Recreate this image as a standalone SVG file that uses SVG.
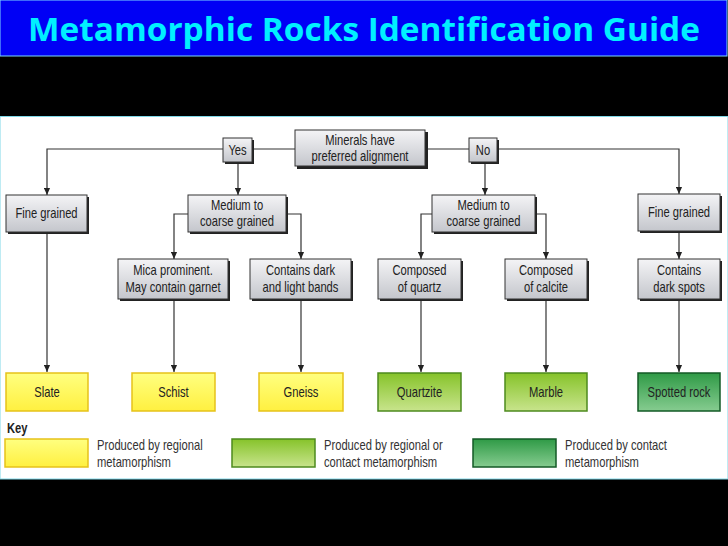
<svg xmlns="http://www.w3.org/2000/svg" width="728" height="546" viewBox="0 0 728 546">
<defs>
<linearGradient id="gGray" x1="0" y1="0" x2="0" y2="1"><stop offset="0" stop-color="#f4f4f6"/><stop offset="1" stop-color="#c4c6cc"/></linearGradient>
<linearGradient id="gYel" x1="0" y1="0" x2="0" y2="1"><stop offset="0" stop-color="#ffff80"/><stop offset="1" stop-color="#fff040"/></linearGradient>
<linearGradient id="gGrn" x1="0" y1="0" x2="0" y2="1"><stop offset="0" stop-color="#86c32a"/><stop offset="1" stop-color="#c8e48c"/></linearGradient>
<linearGradient id="gDk" x1="0" y1="0" x2="0" y2="1"><stop offset="0" stop-color="#2f9a46"/><stop offset="1" stop-color="#86cc90"/></linearGradient>
<marker id="arr" viewBox="0 0 8 8" refX="8" refY="4" markerWidth="7" markerHeight="7" orient="auto" markerUnits="userSpaceOnUse"><path d="M0,0.5 L8,4 L0,7.5 Z" fill="#222"/></marker>
</defs>
<style>
.t{font-family:"Liberation Sans",Arial,sans-serif;font-size:14px;fill:#222;text-anchor:middle}
.k{font-family:"Liberation Sans",Arial,sans-serif;font-size:14px;fill:#333}
.gray{fill:url(#gGray);stroke:#333;stroke-width:1}
.sh{fill:#222}
.yel{fill:url(#gYel);stroke:#e6c21a;stroke-width:1.5}
.grn{fill:url(#gGrn);stroke:#4d8a1e;stroke-width:1.5}
.dk{fill:url(#gDk);stroke:#135a26;stroke-width:1.5}
.c{fill:none;stroke:#333;stroke-width:1.2}
</style>
<rect x="0" y="0" width="728" height="546" fill="#000"/>
<rect x="0" y="0" width="727" height="56" fill="#0000f5" stroke="#7fd8ff" stroke-width="1"/>
<text x="364" y="41" font-family="'Open Sans','Noto Sans',sans-serif" font-weight="bold" font-size="32" fill="#00f0ff" text-anchor="middle" textLength="672" lengthAdjust="spacingAndGlyphs">Metamorphic Rocks Identification Guide</text>
<rect x="0" y="116.5" width="728" height="362.5" fill="#fff" stroke="#7fd8e8" stroke-width="1"/>
<g id="connectors">
<path class="c" d="M295,149 H253"/>
<path class="c" d="M223,149 H47 V195" marker-end="url(#arr)"/>
<path class="c" d="M238,163 V195" marker-end="url(#arr)"/>
<path class="c" d="M426,149 H469"/>
<path class="c" d="M497,149 H679 V194" marker-end="url(#arr)"/>
<path class="c" d="M485,163 V195" marker-end="url(#arr)"/>
<path class="c" d="M47,233 V372" marker-end="url(#arr)"/>
<path class="c" d="M188,214 H174 V259" marker-end="url(#arr)"/>
<path class="c" d="M287,214 H301 V259" marker-end="url(#arr)"/>
<path class="c" d="M174,300 V372" marker-end="url(#arr)"/>
<path class="c" d="M301,300 V372" marker-end="url(#arr)"/>
<path class="c" d="M432,214 H421 V259" marker-end="url(#arr)"/>
<path class="c" d="M536,214 H546 V259" marker-end="url(#arr)"/>
<path class="c" d="M421,300 V372" marker-end="url(#arr)"/>
<path class="c" d="M546,300 V372" marker-end="url(#arr)"/>
<path class="c" d="M679,232 V259" marker-end="url(#arr)"/>
<path class="c" d="M679,300 V372" marker-end="url(#arr)"/>
</g>
<g id="minerals"><rect class="sh" x="297" y="132" width="131" height="37"/><rect class="gray" x="295" y="130" width="130" height="36"/><text class="t" transform="translate(360,145) scale(0.8,1)">Minerals have</text><text class="t" transform="translate(360,161) scale(0.8,1)">preferred alignment</text></g>
<g id="yes"><rect class="sh" x="225" y="140" width="29" height="24"/><rect class="gray" x="223" y="138" width="29" height="24"/><text class="t" transform="translate(237.5,155) scale(0.8,1)">Yes</text></g>
<g id="no"><rect class="sh" x="471" y="140" width="28" height="24"/><rect class="gray" x="469" y="138" width="28" height="24"/><text class="t" transform="translate(483,155) scale(0.8,1)">No</text></g>
<g id="fine-left"><rect class="sh" x="8" y="197" width="81" height="37"/><rect class="gray" x="6" y="195" width="81" height="37"/><text class="t" transform="translate(46.5,218) scale(0.8,1)">Fine grained</text></g>
<g id="medium-left"><rect class="sh" x="190" y="197" width="98" height="37"/><rect class="gray" x="188" y="195" width="98" height="37"/><text class="t" transform="translate(237,210) scale(0.8,1)">Medium to</text><text class="t" transform="translate(237,226) scale(0.8,1)">coarse grained</text></g>
<g id="medium-right"><rect class="sh" x="434" y="197" width="103" height="37"/><rect class="gray" x="432" y="195" width="103" height="37"/><text class="t" transform="translate(483.5,210) scale(0.8,1)">Medium to</text><text class="t" transform="translate(483.5,226) scale(0.8,1)">coarse grained</text></g>
<g id="fine-right"><rect class="sh" x="640" y="196" width="82" height="37"/><rect class="gray" x="638" y="194" width="82" height="37"/><text class="t" transform="translate(679,217) scale(0.8,1)">Fine grained</text></g>
<g id="mica"><rect class="sh" x="120" y="261" width="110" height="40"/><rect class="gray" x="118" y="259" width="110" height="40"/><text class="t" transform="translate(173,275) scale(0.8,1)">Mica prominent.</text><text class="t" transform="translate(173,292) scale(0.8,1)">May contain garnet</text></g>
<g id="bands"><rect class="sh" x="252" y="261" width="101" height="40"/><rect class="gray" x="250" y="259" width="101" height="40"/><text class="t" transform="translate(300.5,275) scale(0.8,1)">Contains dark</text><text class="t" transform="translate(300.5,292) scale(0.8,1)">and light bands</text></g>
<g id="quartz"><rect class="sh" x="380" y="261" width="83" height="40"/><rect class="gray" x="378" y="259" width="83" height="40"/><text class="t" transform="translate(419.5,275) scale(0.8,1)">Composed</text><text class="t" transform="translate(419.5,292) scale(0.8,1)">of quartz</text></g>
<g id="calcite"><rect class="sh" x="507" y="261" width="82" height="40"/><rect class="gray" x="505" y="259" width="82" height="40"/><text class="t" transform="translate(546,275) scale(0.8,1)">Composed</text><text class="t" transform="translate(546,292) scale(0.8,1)">of calcite</text></g>
<g id="spots"><rect class="sh" x="640" y="261" width="82" height="40"/><rect class="gray" x="638" y="259" width="82" height="40"/><text class="t" transform="translate(679,275) scale(0.8,1)">Contains</text><text class="t" transform="translate(679,292) scale(0.8,1)">dark spots</text></g>
<g id="slate"><rect class="yel" x="6" y="373" width="82" height="38"/><text class="t" transform="translate(47,397) scale(0.8,1)">Slate</text></g>
<g id="schist"><rect class="yel" x="132" y="373" width="83" height="38"/><text class="t" transform="translate(173.5,397) scale(0.8,1)">Schist</text></g>
<g id="gneiss"><rect class="yel" x="259" y="373" width="84" height="38"/><text class="t" transform="translate(301,397) scale(0.8,1)">Gneiss</text></g>
<g id="quartzite"><rect class="grn" x="378" y="373" width="83" height="38"/><text class="t" transform="translate(419.5,397) scale(0.8,1)">Quartzite</text></g>
<g id="marble"><rect class="grn" x="505" y="373" width="82" height="38"/><text class="t" transform="translate(546,397) scale(0.8,1)">Marble</text></g>
<g id="spotted"><rect class="dk" x="638" y="373" width="82" height="38"/><text class="t" transform="translate(679,397) scale(0.8,1)">Spotted rock</text></g>
<g id="key">
<text transform="translate(7,433) scale(0.8,1)" font-family="'Liberation Sans',Arial,sans-serif" font-weight="bold" font-size="14" fill="#222">Key</text>
<rect class="yel" x="5" y="439" width="83" height="28"/>
<text class="k" transform="translate(97,450) scale(0.8,1)">Produced by regional</text><text class="k" transform="translate(97,467) scale(0.8,1)">metamorphism</text>
<rect class="grn" x="232" y="439" width="83" height="28"/>
<text class="k" transform="translate(324,450) scale(0.8,1)">Produced by regional or</text><text class="k" transform="translate(324,467) scale(0.8,1)">contact metamorphism</text>
<rect class="dk" x="473" y="439" width="83" height="28"/>
<text class="k" transform="translate(565,450) scale(0.8,1)">Produced by contact</text><text class="k" transform="translate(565,467) scale(0.8,1)">metamorphism</text>
</g>
</svg>
